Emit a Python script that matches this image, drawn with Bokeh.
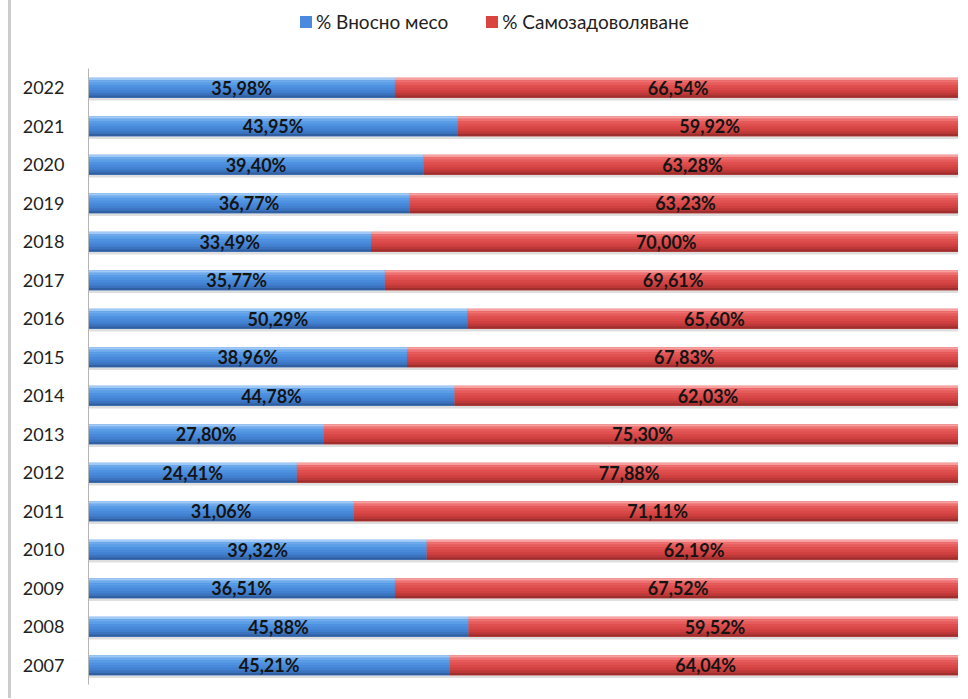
from bokeh.plotting import figure
from bokeh.models import ColumnDataSource, Range1d, Legend, LegendItem, FixedTicker
from bokeh.transform import dodge
from bokeh.core.properties import value
from bokeh.embed import file_html
from bokeh.resources import INLINE
import numpy as np

years = ["2007", "2008", "2009", "2010", "2011", "2012", "2013", "2014",
         "2015", "2016", "2017", "2018", "2019", "2020", "2021", "2022"]
imported = [45.21, 45.88, 36.51, 39.32, 31.06, 24.41, 27.80, 44.78,
            38.96, 50.29, 35.77, 33.49, 36.77, 39.40, 43.95, 35.98]
selfsuff = [64.04, 59.52, 67.52, 62.19, 71.11, 77.88, 75.30, 62.03,
            67.83, 65.60, 69.61, 70.00, 63.23, 63.28, 59.92, 66.54]
series_names = ["% Вносно месо", "% Самозадоволяване"]

imp = np.array(imported)
slf = np.array(selfsuff)
tot = imp + slf
bfrac = imp / tot
idx = np.arange(len(years))


def fmt(v):
    return f"{v:.2f}".replace(".", ",") + "%"


src = ColumnDataSource(dict(
    yi=idx,
    b0=np.zeros(len(years)),
    b1=bfrac,
    r1=np.ones(len(years)),
    bx=bfrac / 2,
    rx=bfrac + (1 - bfrac) / 2,
    blabel=[fmt(v) for v in imported],
    rlabel=[fmt(v) for v in selfsuff],
))

p = figure(width=950, height=698, y_range=Range1d(-0.5, 17.266),
           x_range=Range1d(0, 1), output_backend="svg", toolbar_location=None,
           x_axis_location=None, y_axis_location="left",
           min_border_top=0, min_border_bottom=14, min_border_left=77, min_border_right=0)
p.styles = {"margin-left": "8px", "border-left": "3px solid #cccccc"}
p.outline_line_color = None
p.xgrid.visible = False
p.ygrid.visible = False
p.background_fill_color = "white"

H = 0.52
# shadow
p.hbar(y=dodge("yi", -0.07), left="b0", right="r1", height=H,
       source=src, fill_color="#000000", fill_alpha=0.13, line_color=None)

rb = p.hbar(y="yi", left="b0", right="b1", height=H, source=src,
            fill_color="#4a8ade", line_color=None)
rr = p.hbar(y="yi", left="b1", right="r1", height=H, source=src,
            fill_color="#d9443f", line_color=None)

blue_strips = ["#a0caf5", "#6eaaec", "#5a9ee7", "#4f92e0", "#4989da", "#4280d0", "#3b73bf", "#305fa2"]
red_strips = ["#f6a0a0", "#ee7070", "#e65c5c", "#df5050", "#d94848", "#cf4141", "#bd3838", "#9f2e2e"]
n = len(blue_strips)
sh = H / n
for i in range(n):
    off = H / 2 - (i + 0.5) * sh
    p.hbar(y=dodge("yi", off), left="b0", right="b1", height=sh * 1.02,
           source=src, fill_color=blue_strips[i], line_color=None)
    p.hbar(y=dodge("yi", off), left="b1", right="r1", height=sh * 1.02,
           source=src, fill_color=red_strips[i], line_color=None)

for xcol, tcol in (("bx", "blabel"), ("rx", "rlabel")):
    p.text(x=xcol, y="yi", text=tcol, source=src, text_align="center",
           text_baseline="middle", text_font=value("Lato"), text_font_style="bold",
           text_font_size="18px", text_color="#141414")

ax = p.yaxis[0]
ax.ticker = FixedTicker(ticks=list(idx), minor_ticks=[])
ax.major_label_overrides = {int(i): y for i, y in zip(idx, years)}
ax.bounds = (-0.5, 15.5)
ax.axis_line_color = "#b5b5b5"
ax.major_tick_line_color = None
ax.minor_tick_line_color = None
ax.major_label_standoff = 18
ax.major_label_text_font = "Lato"
ax.major_label_text_font_size = "18px"
ax.major_label_text_color = "#222222"

legend = Legend(items=[LegendItem(label=series_names[0], renderers=[rb]),
                       LegendItem(label=series_names[1], renderers=[rr])],
                orientation="horizontal", location=(210, 651),
                glyph_width=15, glyph_height=15, label_standoff=3, spacing=36,
                padding=0, margin=0, border_line_color=None, background_fill_alpha=0,
                label_text_font="Lato", label_text_font_size="19px",
                label_text_color="#222222")
p.add_layout(legend)

open("out.html", "w").write(file_html(p, INLINE))
